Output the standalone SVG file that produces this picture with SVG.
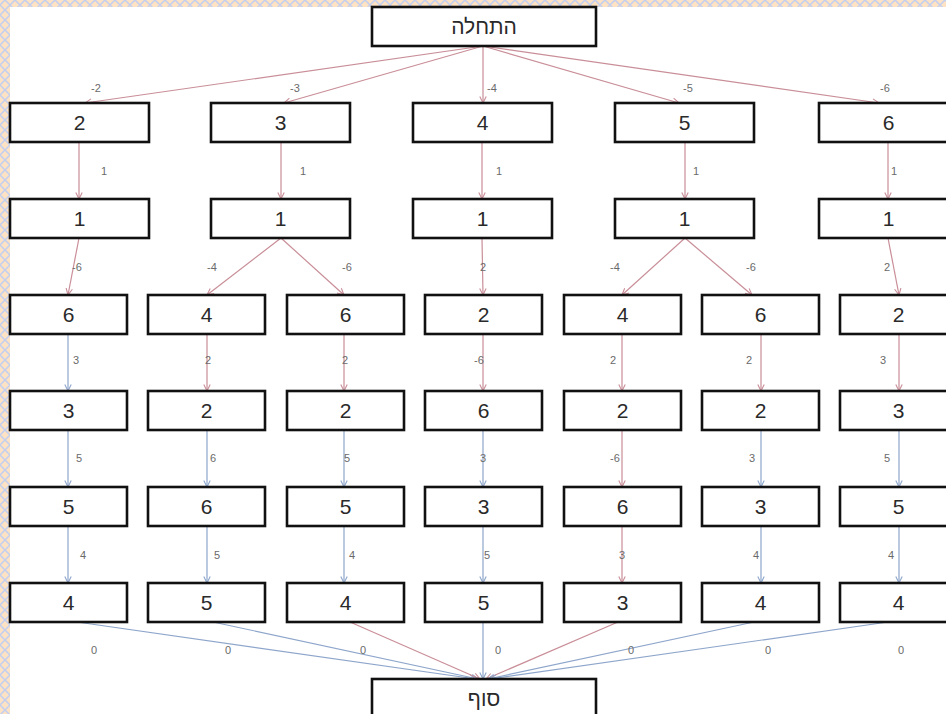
<svg xmlns="http://www.w3.org/2000/svg" width="946" height="714" viewBox="0 0 946 714">
  <defs>
    <pattern id="weave" width="10" height="10" patternUnits="userSpaceOnUse">
      <rect width="10" height="10" fill="#fde2c4"/>
      <path d="M0,5 L5,0 L10,5 L5,10 Z" fill="none" stroke="#c3cff0" stroke-width="1.5"/>
    </pattern>
    <marker id="arrRed" markerUnits="userSpaceOnUse" markerWidth="10" markerHeight="10" refX="7" refY="4" orient="auto">
      <path d="M0.5,0.8 L7,4 L0.5,7.2" fill="none" stroke="#c98e98" stroke-width="1.1"/>
    </marker>
    <marker id="arrBlue" markerUnits="userSpaceOnUse" markerWidth="10" markerHeight="10" refX="7" refY="4" orient="auto">
      <path d="M0.5,0.8 L7,4 L0.5,7.2" fill="none" stroke="#8ea6cb" stroke-width="1.1"/>
    </marker>
  </defs>
  <style>
    .box { fill: #ffffff; stroke: #111111; stroke-width: 2.6; }
    .val { font-family: "Liberation Sans", "DejaVu Sans", Arial, sans-serif; font-size: 21px; fill: #2a2a2a; text-anchor: middle; }
    .lbl { font-family: "Liberation Sans", Arial, sans-serif; font-size: 11px; fill: #6a6a6a; text-anchor: middle; }
    .r { fill: none; stroke: #c98e98; stroke-width: 1.2; marker-end: url(#arrRed); }
    .b { fill: none; stroke: #8ea6cb; stroke-width: 1.2; marker-end: url(#arrBlue); }
  </style>

  <!-- page frame -->
  <rect x="0" y="0" width="946" height="714" fill="url(#weave)"/>
  <rect x="10" y="7" width="936" height="707" fill="#ffffff"/>

  <!-- connectors -->
  <g id="connectors">
    <!-- start to first choice -->
    <line class="r" x1="483" y1="46" x2="85" y2="103"/>
    <line class="r" x1="483" y1="46" x2="284" y2="103"/>
    <line class="r" x1="483" y1="46" x2="483" y2="103"/>
    <line class="r" x1="483" y1="46" x2="679" y2="103"/>
    <line class="r" x1="483" y1="46" x2="879" y2="103"/>
    <!-- first choice to 1 -->
    <line class="r" x1="79" y1="142" x2="79" y2="199"/>
    <line class="r" x1="281" y1="142" x2="281" y2="199"/>
    <line class="r" x1="482" y1="142" x2="482" y2="199"/>
    <line class="r" x1="685" y1="142" x2="685" y2="199"/>
    <line class="r" x1="888" y1="142" x2="888" y2="199"/>
    <!-- 1 to third level -->
    <line class="r" x1="79" y1="238" x2="68" y2="295"/>
    <line class="r" x1="281" y1="238" x2="207" y2="295"/>
    <line class="r" x1="281" y1="238" x2="344" y2="295"/>
    <line class="r" x1="482" y1="238" x2="483" y2="295"/>
    <line class="r" x1="685" y1="238" x2="622" y2="295"/>
    <line class="r" x1="685" y1="238" x2="752" y2="295"/>
    <line class="r" x1="888" y1="238" x2="899" y2="295"/>
    <!-- third to fourth level -->
    <line class="b" x1="68" y1="334" x2="68" y2="391"/>
    <line class="r" x1="207" y1="334" x2="207" y2="391"/>
    <line class="r" x1="344" y1="334" x2="344" y2="391"/>
    <line class="r" x1="483" y1="334" x2="483" y2="391"/>
    <line class="r" x1="622" y1="334" x2="622" y2="391"/>
    <line class="r" x1="761" y1="334" x2="761" y2="391"/>
    <line class="r" x1="899" y1="334" x2="899" y2="391"/>
    <!-- fourth to fifth level -->
    <line class="b" x1="68" y1="430" x2="68" y2="487"/>
    <line class="b" x1="207" y1="430" x2="207" y2="487"/>
    <line class="b" x1="344" y1="430" x2="344" y2="487"/>
    <line class="b" x1="483" y1="430" x2="483" y2="487"/>
    <line class="r" x1="622" y1="430" x2="622" y2="487"/>
    <line class="b" x1="761" y1="430" x2="761" y2="487"/>
    <line class="b" x1="899" y1="430" x2="899" y2="487"/>
    <!-- fifth to sixth level -->
    <line class="b" x1="68" y1="526" x2="68" y2="583"/>
    <line class="b" x1="207" y1="526" x2="207" y2="583"/>
    <line class="b" x1="344" y1="526" x2="344" y2="583"/>
    <line class="b" x1="483" y1="526" x2="483" y2="583"/>
    <line class="r" x1="622" y1="526" x2="622" y2="583"/>
    <line class="b" x1="761" y1="526" x2="761" y2="583"/>
    <line class="b" x1="899" y1="526" x2="899" y2="583"/>
    <!-- sixth level to end -->
    <line class="b" x1="77" y1="622" x2="476" y2="679"/>
    <line class="b" x1="213" y1="622" x2="478" y2="679"/>
    <line class="r" x1="350" y1="622" x2="480" y2="679"/>
    <line class="b" x1="483" y1="622" x2="483" y2="679"/>
    <line class="r" x1="618" y1="622" x2="486" y2="679"/>
    <line class="b" x1="754" y1="622" x2="488" y2="679"/>
    <line class="b" x1="888" y1="622" x2="490" y2="679"/>

    <!-- weights -->
    <text class="lbl" x="96" y="92">-2</text>
    <text class="lbl" x="295" y="92">-3</text>
    <text class="lbl" x="492" y="92">-4</text>
    <text class="lbl" x="688" y="92">-5</text>
    <text class="lbl" x="885" y="92">-6</text>

    <text class="lbl" x="104" y="175">1</text>
    <text class="lbl" x="303" y="175">1</text>
    <text class="lbl" x="499" y="175">1</text>
    <text class="lbl" x="696" y="175">1</text>
    <text class="lbl" x="894" y="175">1</text>

    <text class="lbl" x="77" y="271">-6</text>
    <text class="lbl" x="212" y="271">-4</text>
    <text class="lbl" x="347" y="271">-6</text>
    <text class="lbl" x="483" y="271">2</text>
    <text class="lbl" x="615" y="271">-4</text>
    <text class="lbl" x="751" y="271">-6</text>
    <text class="lbl" x="887" y="271">2</text>

    <text class="lbl" x="76" y="364">3</text>
    <text class="lbl" x="208" y="364">2</text>
    <text class="lbl" x="345" y="364">2</text>
    <text class="lbl" x="479" y="364">-6</text>
    <text class="lbl" x="613" y="364">2</text>
    <text class="lbl" x="749" y="364">2</text>
    <text class="lbl" x="883" y="364">3</text>

    <text class="lbl" x="79" y="462">5</text>
    <text class="lbl" x="213" y="462">6</text>
    <text class="lbl" x="347" y="462">5</text>
    <text class="lbl" x="483" y="462">3</text>
    <text class="lbl" x="615" y="462">-6</text>
    <text class="lbl" x="752" y="462">3</text>
    <text class="lbl" x="887" y="462">5</text>

    <text class="lbl" x="83" y="559">4</text>
    <text class="lbl" x="217" y="559">5</text>
    <text class="lbl" x="352" y="559">4</text>
    <text class="lbl" x="487" y="559">5</text>
    <text class="lbl" x="622" y="559">3</text>
    <text class="lbl" x="756" y="559">4</text>
    <text class="lbl" x="891" y="559">4</text>

    <text class="lbl" x="94" y="654">0</text>
    <text class="lbl" x="228" y="654">0</text>
    <text class="lbl" x="363" y="654">0</text>
    <text class="lbl" x="498" y="654">0</text>
    <text class="lbl" x="631" y="654">0</text>
    <text class="lbl" x="768" y="654">0</text>
    <text class="lbl" x="901" y="654">0</text>
  </g>

  <!-- start / end -->
  <g id="start"><rect class="box" x="372" y="7" width="224" height="39"/><text class="val" x="484" y="34">התחלה</text></g>
  <g id="end"><rect class="box" x="372" y="679" width="224" height="50"/><text class="val" x="484" y="706">סוף</text></g>

  <!-- level 1 -->
  <g id="a2"><rect class="box" x="10" y="103" width="139" height="39"/><text class="val" x="79.5" y="130">2</text></g>
  <g id="a3"><rect class="box" x="211" y="103" width="139" height="39"/><text class="val" x="280.5" y="130">3</text></g>
  <g id="a4"><rect class="box" x="413" y="103" width="139" height="39"/><text class="val" x="482.5" y="130">4</text></g>
  <g id="a5"><rect class="box" x="615" y="103" width="139" height="39"/><text class="val" x="684.5" y="130">5</text></g>
  <g id="a6"><rect class="box" x="819" y="103" width="139" height="39"/><text class="val" x="888.5" y="130">6</text></g>

  <!-- level 2 -->
  <g id="b2"><rect class="box" x="10" y="199" width="139" height="39"/><text class="val" x="79.5" y="226">1</text></g>
  <g id="b3"><rect class="box" x="211" y="199" width="139" height="39"/><text class="val" x="280.5" y="226">1</text></g>
  <g id="b4"><rect class="box" x="413" y="199" width="139" height="39"/><text class="val" x="482.5" y="226">1</text></g>
  <g id="b5"><rect class="box" x="615" y="199" width="139" height="39"/><text class="val" x="684.5" y="226">1</text></g>
  <g id="b6"><rect class="box" x="819" y="199" width="139" height="39"/><text class="val" x="888.5" y="226">1</text></g>

  <!-- level 3 -->
  <g id="c1"><rect class="box" x="10" y="295" width="117" height="39"/><text class="val" x="68.5" y="322">6</text></g>
  <g id="c2"><rect class="box" x="148" y="295" width="117" height="39"/><text class="val" x="206.5" y="322">4</text></g>
  <g id="c3"><rect class="box" x="287" y="295" width="117" height="39"/><text class="val" x="345.5" y="322">6</text></g>
  <g id="c4"><rect class="box" x="425" y="295" width="117" height="39"/><text class="val" x="483.5" y="322">2</text></g>
  <g id="c5"><rect class="box" x="564" y="295" width="117" height="39"/><text class="val" x="622.5" y="322">4</text></g>
  <g id="c6"><rect class="box" x="702" y="295" width="117" height="39"/><text class="val" x="760.5" y="322">6</text></g>
  <g id="c7"><rect class="box" x="840" y="295" width="117" height="39"/><text class="val" x="898.5" y="322">2</text></g>

  <!-- level 4 -->
  <g id="d1"><rect class="box" x="10" y="391" width="117" height="39"/><text class="val" x="68.5" y="418">3</text></g>
  <g id="d2"><rect class="box" x="148" y="391" width="117" height="39"/><text class="val" x="206.5" y="418">2</text></g>
  <g id="d3"><rect class="box" x="287" y="391" width="117" height="39"/><text class="val" x="345.5" y="418">2</text></g>
  <g id="d4"><rect class="box" x="425" y="391" width="117" height="39"/><text class="val" x="483.5" y="418">6</text></g>
  <g id="d5"><rect class="box" x="564" y="391" width="117" height="39"/><text class="val" x="622.5" y="418">2</text></g>
  <g id="d6"><rect class="box" x="702" y="391" width="117" height="39"/><text class="val" x="760.5" y="418">2</text></g>
  <g id="d7"><rect class="box" x="840" y="391" width="117" height="39"/><text class="val" x="898.5" y="418">3</text></g>

  <!-- level 5 -->
  <g id="e1"><rect class="box" x="10" y="487" width="117" height="39"/><text class="val" x="68.5" y="514">5</text></g>
  <g id="e2"><rect class="box" x="148" y="487" width="117" height="39"/><text class="val" x="206.5" y="514">6</text></g>
  <g id="e3"><rect class="box" x="287" y="487" width="117" height="39"/><text class="val" x="345.5" y="514">5</text></g>
  <g id="e4"><rect class="box" x="425" y="487" width="117" height="39"/><text class="val" x="483.5" y="514">3</text></g>
  <g id="e5"><rect class="box" x="564" y="487" width="117" height="39"/><text class="val" x="622.5" y="514">6</text></g>
  <g id="e6"><rect class="box" x="702" y="487" width="117" height="39"/><text class="val" x="760.5" y="514">3</text></g>
  <g id="e7"><rect class="box" x="840" y="487" width="117" height="39"/><text class="val" x="898.5" y="514">5</text></g>

  <!-- level 6 -->
  <g id="f1"><rect class="box" x="10" y="583" width="117" height="39"/><text class="val" x="68.5" y="610">4</text></g>
  <g id="f2"><rect class="box" x="148" y="583" width="117" height="39"/><text class="val" x="206.5" y="610">5</text></g>
  <g id="f3"><rect class="box" x="287" y="583" width="117" height="39"/><text class="val" x="345.5" y="610">4</text></g>
  <g id="f4"><rect class="box" x="425" y="583" width="117" height="39"/><text class="val" x="483.5" y="610">5</text></g>
  <g id="f5"><rect class="box" x="564" y="583" width="117" height="39"/><text class="val" x="622.5" y="610">3</text></g>
  <g id="f6"><rect class="box" x="702" y="583" width="117" height="39"/><text class="val" x="760.5" y="610">4</text></g>
  <g id="f7"><rect class="box" x="840" y="583" width="117" height="39"/><text class="val" x="898.5" y="610">4</text></g>
</svg>
